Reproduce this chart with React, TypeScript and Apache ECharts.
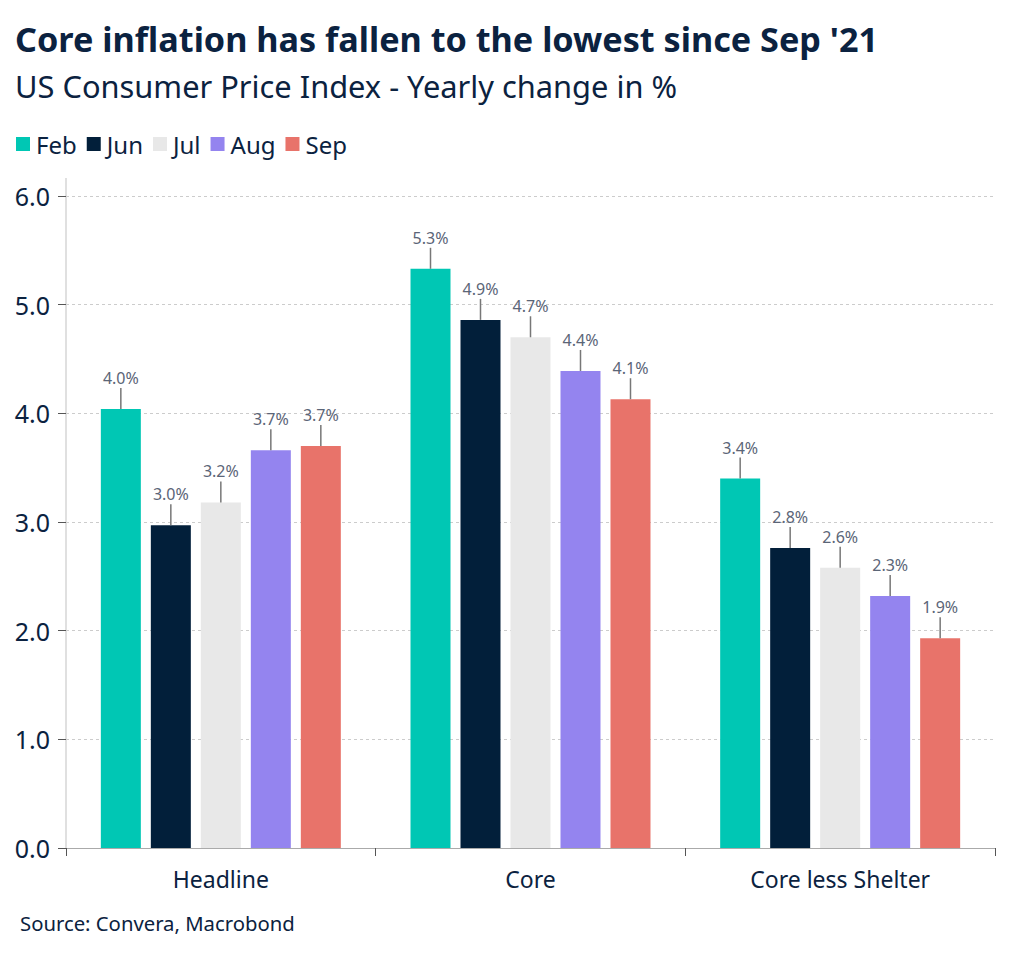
import React, { useEffect, useRef } from "react";
import * as echarts from "echarts";

const categories = ["Headline", "Core", "Core less Shelter"];
const months = ["Feb", "Jun", "Jul", "Aug", "Sep"];
const feb = [4.04, 5.33, 3.4];
const jun = [2.97, 4.86, 2.76];
const jul = [3.18, 4.7, 2.58];
const aug = [3.66, 4.39, 2.32];
const sep = [3.7, 4.13, 1.93];
const seriesValues = [feb, jun, jul, aug, sep];
const colors = ["#00c7b4", "#021f3a", "#e8e8e8", "#9484ef", "#e8736a"];
const yTicks = [0, 1, 2, 3, 4, 5, 6];

const FONT = "'Noto Sans', 'Open Sans', sans-serif";
const NAVY = "#0b2240";
const CAT_GAP = 0.225;
const BAR_GAP = 0.25;

export default function App() {
  const ref = useRef<HTMLDivElement>(null);
  useEffect(() => {
    if (!ref.current) return;
    const chart = echarts.init(ref.current, null, { renderer: "svg" });
    const labelData: number[][] = [];
    seriesValues.forEach((vals, si) => {
      vals.forEach((v, ci) => labelData.push([ci, si, v]));
    });
    const n = months.length;
    chart.setOption({
      animation: false,
      textStyle: { fontFamily: FONT },
      title: [
        {
          text: "Core inflation has fallen to the lowest since Sep '21",
          left: 10,
          top: 16,
          textStyle: { fontFamily: FONT, fontSize: 34.2, fontWeight: "bold", color: NAVY },
        },
        {
          text: "US Consumer Price Index - Yearly change in %",
          left: 10,
          top: 65,
          textStyle: { fontFamily: FONT, fontSize: 30.8, fontWeight: "normal", color: NAVY },
        },
        {
          text: "Source: Convera, Macrobond",
          left: 15,
          top: 908,
          textStyle: { fontFamily: FONT, fontSize: 20.3, fontWeight: "normal", color: NAVY },
        },
      ],
      legend: {
        data: months,
        left: 11,
        top: 127,
        icon: "rect",
        itemWidth: 14,
        itemHeight: 14,
        itemGap: 10,
        textStyle: { fontFamily: FONT, fontSize: 24, color: NAVY, padding: [0, 0, 0, 1] },
        selectedMode: false,
      },
      grid: { left: 66, right: 29, top: 196, bottom: 110, containLabel: false },
      xAxis: {
        type: "category",
        data: categories,
        axisLine: { lineStyle: { color: "#aaaaaa", width: 1 } },
        axisTick: { show: true, length: 8, lineStyle: { color: "#555555" } },
        axisLabel: { fontFamily: FONT, fontSize: 23, color: NAVY, margin: 19 },
      },
      yAxis: {
        type: "value",
        min: yTicks[0],
        max: yTicks[yTicks.length - 1],
        interval: 1,
        axisLine: { show: true, lineStyle: { color: "#d6d6d6", width: 1.5 } },
        axisTick: { show: true, length: 8, lineStyle: { color: "#555555" } },
        axisLabel: {
          fontFamily: FONT,
          fontSize: 25,
          color: NAVY,
          margin: 16,
          formatter: (v: number) => v.toFixed(1),
        },
        splitLine: { show: true, lineStyle: { color: "#cccccc", type: [3, 3] } },
      },
      graphic: [
        {
          type: "line",
          shape: { x1: 66, y1: 178, x2: 66, y2: 196 },
          style: { stroke: "#d6d6d6", lineWidth: 1.5 },
        },
      ],
      series: [
        ...months.map((m, i) => ({
          name: m,
          type: "bar",
          data: seriesValues[i],
          itemStyle: { color: colors[i] },
          barGap: BAR_GAP * 100 + "%",
          barCategoryGap: CAT_GAP * 100 + "%",
          emphasis: { disabled: true },
        })),
        {
          type: "custom",
          name: "labels",
          data: labelData,
          encode: { x: 0, y: 2 },
          z: 5,
          silent: true,
          renderItem: (params: any, api: any) => {
            const ci = api.value(0);
            const si = api.value(1);
            const v = api.value(2);
            const c = api.coord([ci, v]);
            const bw = api.size([1, 0])[0];
            const barW = (bw * (1 - CAT_GAP)) / (n + (n - 1) * BAR_GAP);
            const step = barW * (1 + BAR_GAP);
            const x = c[0] + (si - (n - 1) / 2) * step;
            return {
              type: "group",
              children: [
                {
                  type: "line",
                  shape: { x1: x, y1: c[1], x2: x, y2: c[1] - 21 },
                  style: { stroke: "#777777", lineWidth: 1.5 },
                },
                {
                  type: "text",
                  x: x,
                  y: c[1] - 31,
                  style: {
                    text: v.toFixed(1) + "%",
                    align: "center",
                    verticalAlign: "middle",
                    fill: "#5b6577",
                    fontSize: 16,
                    fontFamily: FONT,
                  },
                },
              ],
            };
          },
        },
      ],
    });
    return () => chart.dispose();
  }, []);
  return (
    <div
      ref={ref}
      style={{ position: "fixed", left: 0, top: 0, width: 1024, height: 958, background: "#ffffff" }}
    />
  );
}
